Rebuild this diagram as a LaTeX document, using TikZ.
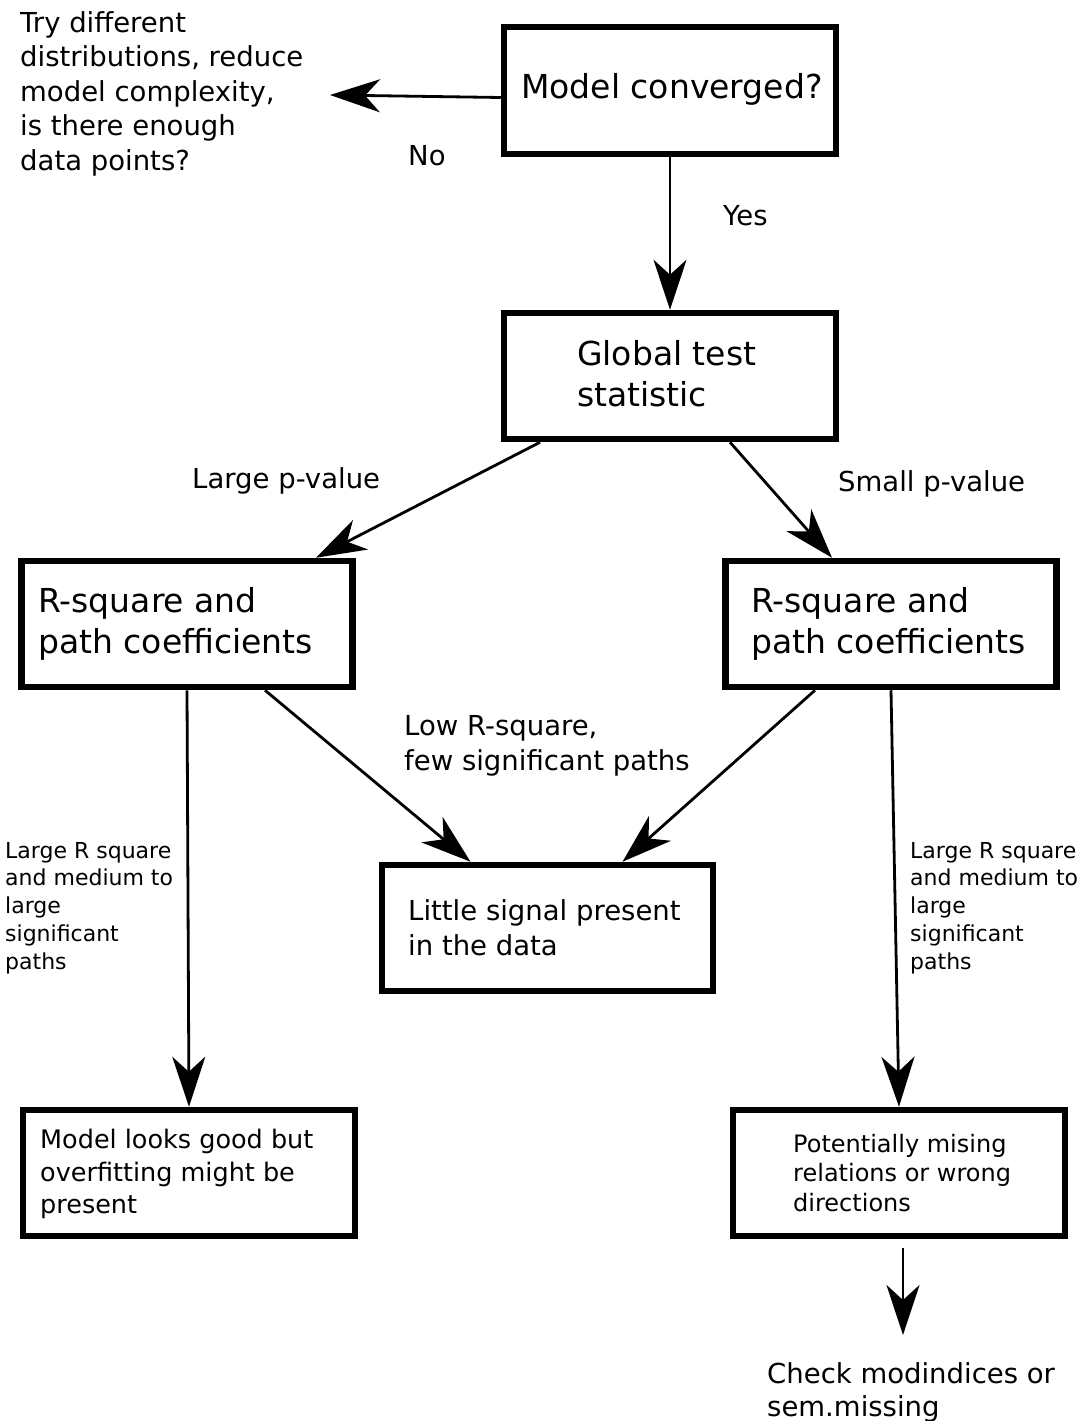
\documentclass[tikz,border=0pt]{standalone}
\usepackage{fontspec}
\setmainfont{DejaVu Sans}
\usetikzlibrary{arrows.meta}
\begin{document}
\begin{tikzpicture}[x=1pt,y=-1pt,
  box/.style={draw, line width=6.5pt, rectangle, inner sep=0pt, minimum width=332pt, minimum height=126pt},
  txt/.style={anchor=north west, inner sep=0pt, align=left},
  txtbig/.style={txt, font=\fontsize{33pt}{41pt}\selectfont},
  txtmid/.style={txt, font=\fontsize{27.5pt}{35pt}\selectfont},
  txttry/.style={txt, font=\fontsize{27.5pt}{34.6pt}\selectfont},
  txtchk/.style={txt, font=\fontsize{27.5pt}{33pt}\selectfont},
  txtlab/.style={txt, font=\fontsize{27.5pt}{33pt}\selectfont},
  txtsmall/.style={txt, font=\fontsize{22pt}{27.7pt}\selectfont},
  txtlooks/.style={txt, font=\fontsize{25.5pt}{32.5pt}\selectfont},
  txtpot/.style={txt, font=\fontsize{24pt}{29.5pt}\selectfont},
  arr/.style={line width=2.8pt, -{Stealth[length=50pt,width=33pt,inset=15pt]}},
]
\useasboundingbox (0,0) rectangle (1084,1421);

% boxes
\node[box, minimum height=127pt] (conv) at (670,90.5) {};
\node[box] (glob) at (670,376) {};
\node[box, minimum width=331pt] (lr) at (187,624) {};
\node[box, minimum width=331pt] (rr) at (891,624) {};
\node[box, minimum width=331pt, minimum height=126pt] (little) at (547.5,928) {};
\node[box, minimum height=126pt] (looks) at (189,1173) {};
\node[box, minimum height=126pt] (pot) at (899,1173) {};

% box texts
\node[txtbig] (tconv) at (521,73) {Model converged?};
\node[txtbig] (tglob) at (577,340) {Global test\\statistic};
\node[txtbig] (tlr) at (38,587) {R-square and\\path coefficients};
\node[txtbig] (trr) at (751,587) {R-square and\\path coefficients};
\node[txtmid] (tlittle) at (408,899) {Little signal present\\in the data};
\node[txtlooks] (tlooks) at (40,1129) {Model looks good but\\overfitting might be\\present};
\node[txtpot] (tpot) at (793,1134) {Potentially mising\\relations or wrong\\directions};

% free texts and labels
\node[txttry] (ttry) at (20,11) {Try different\\distributions, reduce\\model complexity,\\is there enough\\data points?};
\node[txtlab] (lno) at (408,145) {No};
\node[txtlab] (lyes) at (723,205) {Yes};
\node[txtlab] (llarge) at (192,467) {Large p-value};
\node[txtlab] (lsmall) at (838,470) {Small p-value};
\node[txtmid] (llow) at (404,715) {Low R-square,\\few significant paths};
\node[txtsmall] (lleft) at (5,842) {Large R square\\and medium to\\large\\significant\\paths};
\node[txtsmall] (lright) at (910,842) {Large R square\\and medium to\\large\\significant\\paths};
\node[txtchk] (tcheck) at (767,1362) {Check modindices or\\sem.missing};

% connectors
\coordinate (notip) at (330,95);
\draw[arr] ([yshift=-7pt]conv.west) -- (notip);
\draw[arr] (conv.south) -- (glob.north);
\draw[arr] ([xshift=-130pt]glob.south) -- ([xshift=129pt]lr.north);
\draw[arr] ([xshift=60pt]glob.south) -- ([xshift=-59pt]rr.north);
\draw[arr] ([xshift=78pt]lr.south) -- ([xshift=-77pt]little.north);
\draw[arr] ([xshift=-76pt]rr.south) -- ([xshift=75pt]little.north);
\draw[arr] (lr.south) -- (looks.north);
\draw[arr] (rr.south) -- (pot.north);
\coordinate (potout) at (903,1248);
\coordinate (checktip) at (903,1335);
\draw[arr] (potout) -- (checktip);
\end{tikzpicture}
\end{document}
